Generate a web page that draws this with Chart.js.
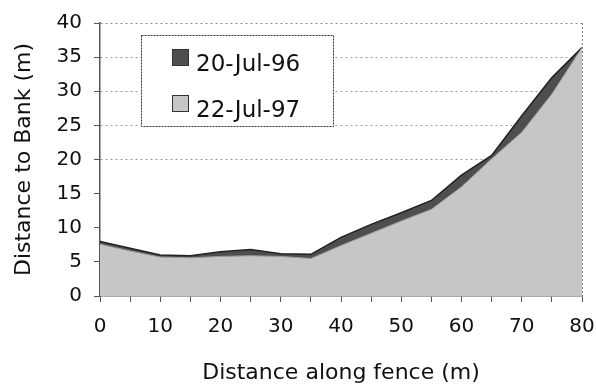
<!DOCTYPE html>
<html><head><meta charset="utf-8">
<script src="https://cdn.jsdelivr.net/npm/chart.js@4"></script>
<style>html,body{margin:0;padding:0;background:#fff}#wrap{width:596px;height:386px}</style>
</head><body><div id="wrap"><canvas id="c" width="596" height="386"></canvas></div>
<script>
const distances = [0, 5, 10, 15, 20, 25, 30, 35, 40, 45, 50, 55, 60, 65, 70, 75, 80];
const seriesLabels = ['20-Jul-96', '22-Jul-97'];
const jul96 = [8.0, 7.0, 6.0, 5.9, 6.5, 6.8, 6.2, 6.1, 8.6, 10.5, 12.2, 14.0, 17.7, 20.6, 26.4, 32.0, 36.4];
const jul97 = [7.6, 6.6, 5.7, 5.6, 5.8, 5.9, 5.8, 5.5, 7.4, 9.2, 11.0, 12.7, 16.0, 20.1, 24.0, 29.6, 36.4];
const xTitle = 'Distance along fence (m)';
const yTitle = 'Distance to Bank (m)';

const FONT = "'DejaVu Sans', sans-serif";
const toPts = arr => distances.map((d, i) => ({x: d, y: arr[i]}));

const boxLegend = {
  id: 'boxLegend',
  afterDraw(chart) {
    const ctx = chart.ctx, a = chart.chartArea;
    const x0 = a.left + 41, y0 = a.top + 12, w = 192, h = 91;
    ctx.save();
    ctx.fillStyle = '#fff';
    ctx.fillRect(x0, y0, w, h);
    ctx.strokeStyle = '#333';
    ctx.lineWidth = 1;
    ctx.setLineDash([2, 1]);
    ctx.strokeRect(x0 + 0.5, y0 + 0.5, w, h);
    ctx.setLineDash([]);
    chart.data.datasets.forEach((ds, i) => {
      const sy = y0 + 14 + i * 46;
      ctx.fillStyle = ds.backgroundColor;
      ctx.fillRect(x0 + 31, sy, 17, 17);
      ctx.strokeStyle = '#333';
      ctx.strokeRect(x0 + 31.5, sy + 0.5, 16, 16);
      ctx.fillStyle = '#111';
      ctx.font = '23px ' + FONT;
      ctx.textBaseline = 'middle';
      ctx.textAlign = 'left';
      ctx.fillText(ds.label, x0 + 55, sy + 16);
    });
    ctx.restore();
  }
};

new Chart(document.getElementById('c'), {
  type: 'line',
  data: {
    datasets: [
      {label: seriesLabels[0], data: toPts(jul96), backgroundColor: '#4e4e4e', borderColor: '#222',
       borderWidth: 1.5, fill: 'origin', pointRadius: 0, tension: 0, order: 2},
      {label: seriesLabels[1], data: toPts(jul97), backgroundColor: '#c6c6c6', borderColor: '#999',
       borderWidth: 1, fill: 'origin', pointRadius: 0, tension: 0, order: 1}
    ]
  },
  options: {
    responsive: false,
    animation: false,
    devicePixelRatio: 1,
    layout: {padding: {left: 0, right: 14, top: 23, bottom: 0}},
    plugins: {legend: {display: false}, tooltip: {enabled: false}},
    scales: {
      x: {
        type: 'linear', min: 0, max: 80,
        afterFit: s => { s.height = 90; s.paddingLeft = 0; s.paddingRight = 0; },
        ticks: {stepSize: 5, autoSkip: false, maxRotation: 0, padding: 13,
                color: '#111', font: {family: FONT, size: 20},
                callback: v => (v % 10 === 0 ? String(v) : '')},
        grid: {drawOnChartArea: true, tickLength: 6, tickColor: '#555',
               color: c => (c.tick && c.tick.value === 80 ? '#888' : 'rgba(0,0,0,0)')},
        border: {color: '#555', width: 1.5, dash: [2, 2]},
        title: {display: true, text: xTitle, color: '#111', font: {family: FONT, size: 22},
                padding: {top: 0, bottom: 0}}
      },
      y: {
        min: 0, max: 40,
        afterFit: s => { s.width = 100; s.paddingTop = 0; s.paddingBottom = 0; },
        ticks: {stepSize: 5, padding: 12, color: '#111', font: {family: FONT, size: 20}},
        grid: {tickLength: 6, tickColor: '#555',
               color: c => {
                 const v = c.tick ? c.tick.value : 0;
                 if (v === 40) return '#888';
                 return (v >= 20 && v < 40) ? '#999' : 'rgba(0,0,0,0)';
               }},
        border: {color: '#555', width: 1.5, dash: [2, 3]},
        title: {display: true, text: yTitle, color: '#111', font: {family: FONT, size: 22},
                padding: {top: 11, bottom: 0}}
      }
    }
  },
  plugins: [boxLegend]
});
</script>
</body></html>
